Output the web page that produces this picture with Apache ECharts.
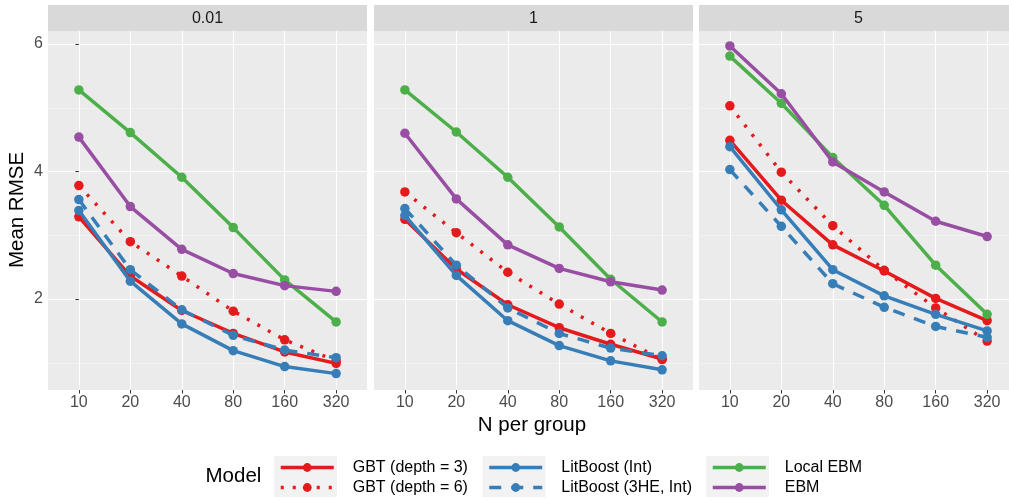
<!DOCTYPE html>
<html><head><meta charset="utf-8">
<script src="https://cdn.jsdelivr.net/npm/echarts@6/dist/echarts.min.js"></script>
<style>html,body{margin:0;padding:0;background:#fff;overflow:hidden}#c{width:1018px;height:530px}</style>
</head><body><div id="c"></div><script>
const categories = ['10','20','40','80','160','320'];
const panelLabels = ['0.01','1','5'];
const seriesNames = ['GBT (depth = 3)','GBT (depth = 6)','LitBoost (Int)','LitBoost (3HE, Int)','Local EBM','EBM'];
const yMajorTicks = [2,4,6];
const yMinorTicks = [1,3,5];

// Panel "0.01"
const gbt3_p001   = [3.29, 2.36, 1.82, 1.46, 1.17, 0.99];
const gbt6_p001   = [3.78, 2.90, 2.36, 1.81, 1.36, 1.03];
const litInt_p001 = [3.39, 2.28, 1.61, 1.19, 0.94, 0.83];
const lit3he_p001 = [3.56, 2.46, 1.83, 1.43, 1.20, 1.08];
const local_p001  = [5.28, 4.61, 3.91, 3.12, 2.30, 1.64];
const ebm_p001    = [4.54, 3.45, 2.78, 2.40, 2.21, 2.12];
// Panel "1"
const gbt3_p1   = [3.25, 2.47, 1.91, 1.55, 1.29, 1.06];
const gbt6_p1   = [3.68, 3.04, 2.42, 1.92, 1.46, 1.05];
const litInt_p1 = [3.31, 2.37, 1.66, 1.27, 1.03, 0.89];
const lit3he_p1 = [3.42, 2.53, 1.86, 1.46, 1.23, 1.11];
const local_p1  = [5.28, 4.62, 3.91, 3.13, 2.31, 1.64];
const ebm_p1    = [4.60, 3.57, 2.85, 2.48, 2.27, 2.14];
// Panel "5"
const gbt3_p5   = [4.49, 3.55, 2.85, 2.44, 2.01, 1.66];
const gbt6_p5   = [5.03, 3.99, 3.15, 2.45, 1.86, 1.34];
const litInt_p5 = [4.39, 3.40, 2.46, 2.05, 1.76, 1.50];
const lit3he_p5 = [4.03, 3.14, 2.24, 1.87, 1.57, 1.40];
const local_p5  = [5.81, 5.07, 4.22, 3.47, 2.53, 1.76];
const ebm_p5    = [5.97, 5.22, 4.15, 3.68, 3.22, 2.98];

const panelData = [
  [gbt3_p001, gbt6_p001, litInt_p001, lit3he_p001, local_p001, ebm_p001],
  [gbt3_p1, gbt6_p1, litInt_p1, lit3he_p1, local_p1, ebm_p1],
  [gbt3_p5, gbt6_p5, litInt_p5, lit3he_p5, local_p5, ebm_p5]
];

const colors = ['#E41A1C','#E41A1C','#377EB8','#377EB8','#4DAF4A','#984EA3'];
const lineTypes = ['solid',[3,9],'solid',[12,10],'solid','solid'];

const gridLefts = [48, 374, 699];
const gridW = 319, gridTop = 31, gridH = 359;
const yMin = 0.573, yMax = 6.204;
const FONT = 'Liberation Sans, Arial, sans-serif';

const grids = [], xAxes = [], yAxes = [], series = [], graphics = [];
gridLefts.forEach((gl, p) => {
  grids.push({left: gl, top: gridTop, width: gridW, height: gridH, show: true, backgroundColor: '#EBEBEB', borderWidth: 0});
  xAxes.push({
    type: 'value', gridIndex: p, min: -0.6, max: 5.6,
    axisLine: {show: false},
    axisTick: {show: true, length: 3.5, lineStyle: {color: '#333333', width: 1}, customValues: [0,1,2,3,4,5]},
    axisLabel: {show: true, margin: 5, color: '#4D4D4D', fontSize: 16, fontFamily: FONT,
      customValues: [0,1,2,3,4,5], formatter: v => categories[Math.round(v)] || ''},
    splitLine: {show: true, lineStyle: {color: '#FFFFFF', width: 1.1}}
  });
  yAxes.push({
    type: 'value', gridIndex: p, min: yMin, max: yMax,
    axisLine: {show: false},
    axisTick: {show: p === 0, length: 3.5, lineStyle: {color: '#333333', width: 1}, customValues: yMajorTicks},
    axisLabel: {show: p === 0, margin: 5, color: '#4D4D4D', fontSize: 16, fontFamily: FONT, customValues: yMajorTicks},
    splitLine: {show: true, lineStyle: {color: '#FFFFFF', width: 1.1}}
  });
  yAxes.push({
    type: 'value', gridIndex: p, min: yMin, max: yMax, position: 'left',
    axisLine: {show: false},
    axisTick: {show: false, customValues: yMinorTicks},
    axisLabel: {show: false, customValues: yMinorTicks},
    splitLine: {show: true, lineStyle: {color: '#F7F7F7', width: 0.6}}
  });
  panelData[p].forEach((vals, s) => {
    series.push({
      name: seriesNames[s], type: 'line', xAxisIndex: p, yAxisIndex: p * 2,
      data: vals.map((v, i) => [i, v]),
      symbol: 'circle', symbolSize: 9.5, showSymbol: true,
      itemStyle: {color: colors[s]},
      lineStyle: {color: colors[s], width: 3.5, type: lineTypes[s], cap: 'butt'},
      z: 2 + s, animation: false
    });
  });
  graphics.push({type: 'rect', shape: {x: gl, y: 5, width: gridW, height: 26}, style: {fill: '#D9D9D9'}, z: -1});
  graphics.push({type: 'text', x: gl + gridW / 2, y: 18.5, style: {text: panelLabels[p], fill: '#1A1A1A', font: '16px ' + FONT, textAlign: 'center', textVerticalAlign: 'middle'}});
});

graphics.push({type: 'text', x: 17, y: 210, rotation: Math.PI / 2, style: {text: 'Mean RMSE', fill: '#000', font: '20.5px ' + FONT, textAlign: 'center', textVerticalAlign: 'middle'}});
graphics.push({type: 'text', x: 532, y: 425, style: {text: 'N per group', fill: '#000', font: '20.5px ' + FONT, textAlign: 'center', textVerticalAlign: 'middle'}});
graphics.push({type: 'text', x: 205.5, y: 476, style: {text: 'Model', fill: '#000', font: '20.5px ' + FONT, textAlign: 'left', textVerticalAlign: 'middle'}});

const legendBgLefts = [274, 482.5, 706];
legendBgLefts.forEach(l => {
  graphics.push({type: 'rect', shape: {x: l, y: 456, width: 63, height: 41}, style: {fill: '#F2F2F2'}, z: -1});
});

const legends = legendBgLefts.map((l, k) => ({
  orient: 'vertical', left: l + 5, top: 459.5, padding: 0, itemWidth: 53, itemHeight: 11, itemGap: 4,
  data: [seriesNames[k * 2], seriesNames[k * 2 + 1]],
  lineStyle: {width: 3.5},
  textStyle: {color: '#000', fontSize: 16, lineHeight: 11, fontFamily: FONT, padding: [0, 0, 0, 14]},
  selectedMode: false
}));

const chart = echarts.init(document.getElementById('c'), null, {renderer: 'canvas'});
chart.setOption({
  animation: false,
  grid: grids, xAxis: xAxes, yAxis: yAxes, series: series,
  legend: legends, graphic: graphics
});
</script></body></html>
